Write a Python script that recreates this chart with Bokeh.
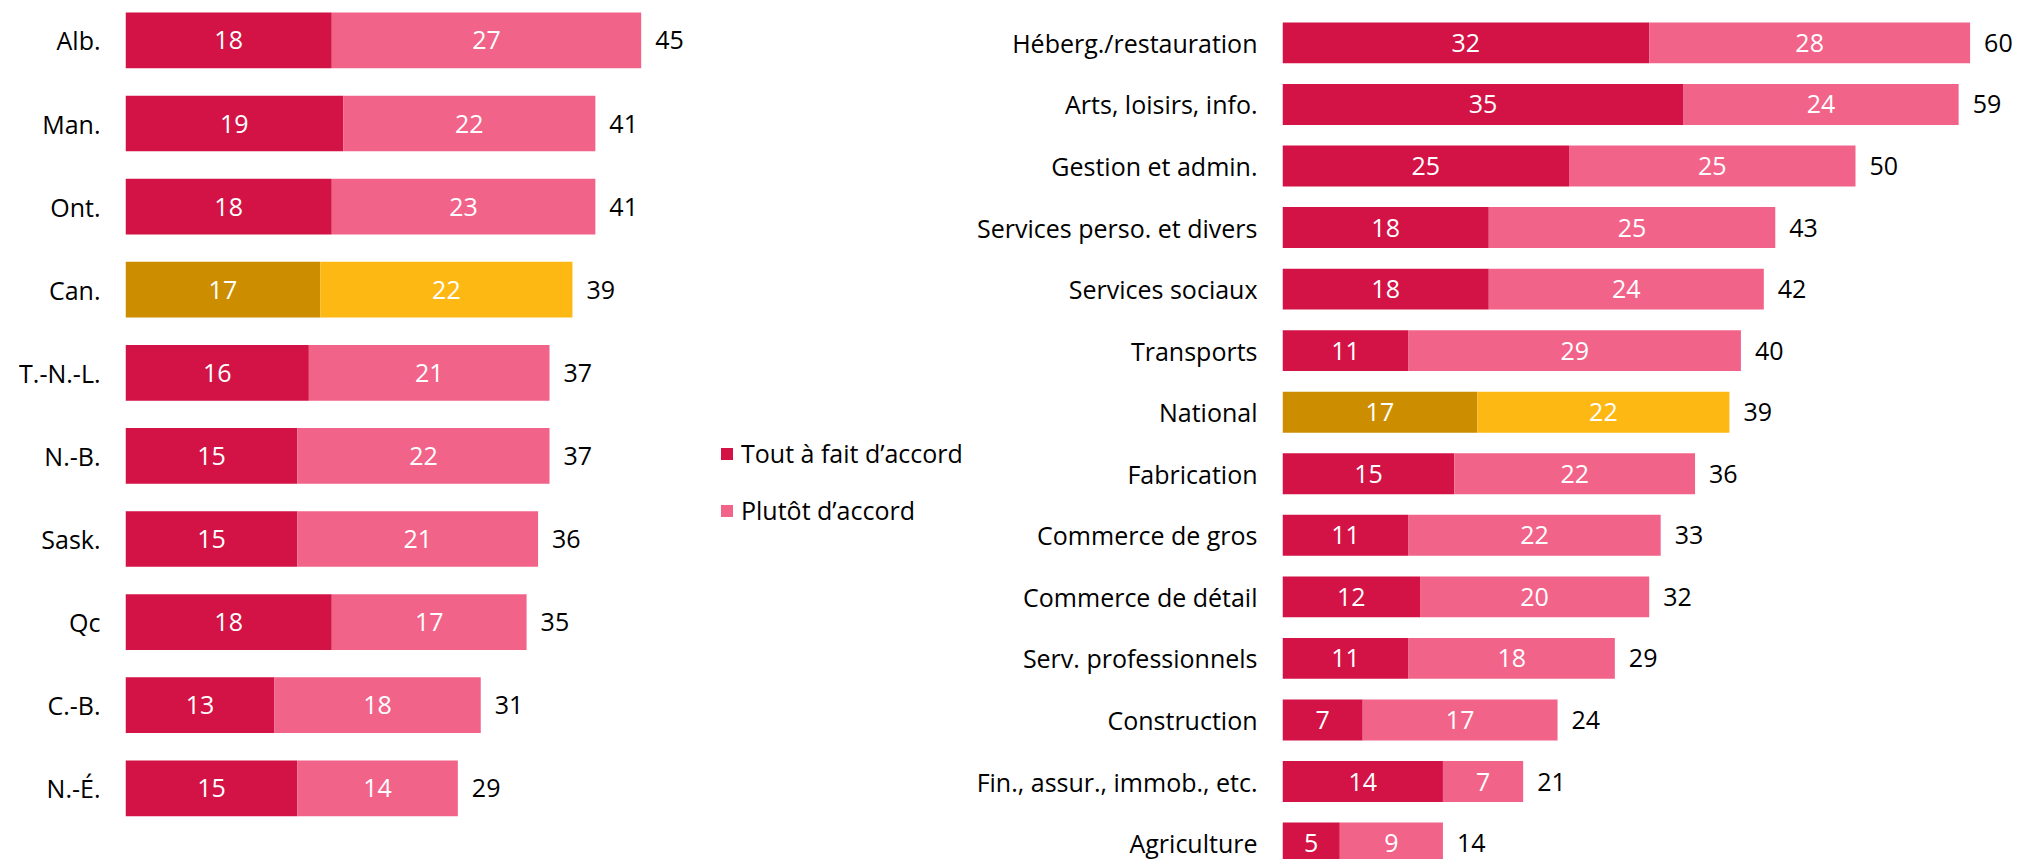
from bokeh.plotting import figure
from bokeh.models import ColumnDataSource, Range1d, FixedTicker, Legend, LegendItem
from bokeh.layouts import row
from bokeh.core.properties import value
from bokeh.embed import file_html
from bokeh.resources import INLINE

# ---- data ----
prov_names = ["Alb.", "Man.", "Ont.", "Can.", "T.-N.-L.", "N.-B.", "Sask.", "Qc", "C.-B.", "N.-É."]
prov_strong = [18, 19, 18, 17, 16, 15, 15, 18, 13, 15]
prov_some = [27, 22, 23, 22, 21, 22, 21, 17, 18, 14]
prov_total = [45, 41, 41, 39, 37, 37, 36, 35, 31, 29]
prov_highlight = "Can."

ind_names = ["Héberg./restauration", "Arts, loisirs, info.", "Gestion et admin.",
             "Services perso. et divers", "Services sociaux", "Transports", "National",
             "Fabrication", "Commerce de gros", "Commerce de détail", "Serv. professionnels",
             "Construction", "Fin., assur., immob., etc.", "Agriculture"]
ind_strong = [32, 35, 25, 18, 18, 11, 17, 15, 11, 12, 11, 7, 14, 5]
ind_some = [28, 24, 25, 25, 24, 29, 22, 22, 22, 20, 18, 17, 7, 9]
ind_total = [60, 59, 50, 43, 42, 40, 39, 36, 33, 32, 29, 24, 21, 14]
ind_highlight = "National"

legend_labels = ["Tout à fait d’accord", "Plutôt d’accord"]

RED, PINK = "#D31245", "#F2638A"
GOLD_D, GOLD_L = "#CC8E00", "#FDB813"
FONT = "Open Sans"
FS = "25px"
PX_PER_UNIT = 11.46
H = 859


def make_panel(names, strong, some, total, highlight, width, border_left,
               center0, spacing, bar_h, standoff):
    n = len(names)
    ys = list(range(n))
    src = ColumnDataSource(dict(
        y=ys,
        strong=strong,
        total=total,
        strong_mid=[a / 2 for a in strong],
        some_mid=[(a + t) / 2 for a, t in zip(strong, total)],
        strong_lbl=[str(v) for v in strong],
        some_lbl=[str(v) for v in some],
        total_lbl=[str(v) for v in total],
        c_strong=[GOLD_D if nm == highlight else RED for nm in names],
        c_some=[GOLD_L if nm == highlight else PINK for nm in names],
    ))
    frame_w = width - border_left
    top_val = (0 - center0) / spacing
    bot_val = (H - center0) / spacing
    p = figure(width=width, height=H, output_backend="svg", toolbar_location=None,
               x_range=Range1d(0, frame_w / PX_PER_UNIT),
               y_range=Range1d(bot_val, top_val),
               x_axis_location=None, min_border_left=border_left,
               min_border_right=0, min_border_top=0, min_border_bottom=0)
    p.outline_line_color = None
    p.xgrid.visible = False
    p.ygrid.visible = False
    r1 = p.hbar(y="y", left=0, right="strong", height=bar_h, fill_color="c_strong",
                line_color=None, source=src)
    r2 = p.hbar(y="y", left="strong", right="total", height=bar_h, fill_color="c_some",
                line_color=None, source=src)
    for col, lbl in (("strong_mid", "strong_lbl"), ("some_mid", "some_lbl")):
        p.text(x=col, y="y", text=lbl, source=src, text_color="white",
               text_font=value(FONT), text_font_size=FS, text_align="center",
               text_baseline="middle")
    p.text(x="total", y="y", text="total_lbl", source=src, text_color="#000000",
           text_font=value(FONT), text_font_size=FS, text_align="left",
           text_baseline="middle", x_offset=14)
    ax = p.yaxis[0]
    ax.ticker = FixedTicker(ticks=ys)
    ax.major_label_overrides = {i: nm for i, nm in enumerate(names)}
    ax.axis_line_color = None
    ax.major_tick_line_color = None
    ax.minor_tick_line_color = None
    ax.major_tick_out = 0
    ax.major_tick_in = 0
    ax.major_label_standoff = standoff
    ax.major_label_text_font = FONT
    ax.major_label_text_font_size = FS
    ax.major_label_text_color = "#000000"
    return p, r1, r2


left_w = 970
left_frame = 125
right_frame = 1282
p1, lr1, lr2 = make_panel(prov_names, prov_strong, prov_some, prov_total, prov_highlight,
                          left_w, left_frame, 39.9, 83.1, 0.67, 25)
p2, _, _ = make_panel(ind_names, ind_strong, ind_some, ind_total, ind_highlight,
                      2020 - left_w, right_frame - left_w, 42.4, 61.55, 0.665, 25)

legend = Legend(items=[LegendItem(label=legend_labels[0], renderers=[lr1], index=0),
                       LegendItem(label=legend_labels[1], renderers=[lr2], index=0)],
                location=(719 - left_frame, 332), orientation="vertical",
                glyph_width=15, glyph_height=15, label_height=30, spacing=23,
                label_standoff=7, padding=0, margin=0,
                label_text_font=FONT, label_text_font_size=FS,
                label_text_color="#000000",
                border_line_color=None, background_fill_alpha=0)
p1.add_layout(legend)

layout = row(p1, p2)
open("out.html", "w").write(file_html(layout, INLINE))
